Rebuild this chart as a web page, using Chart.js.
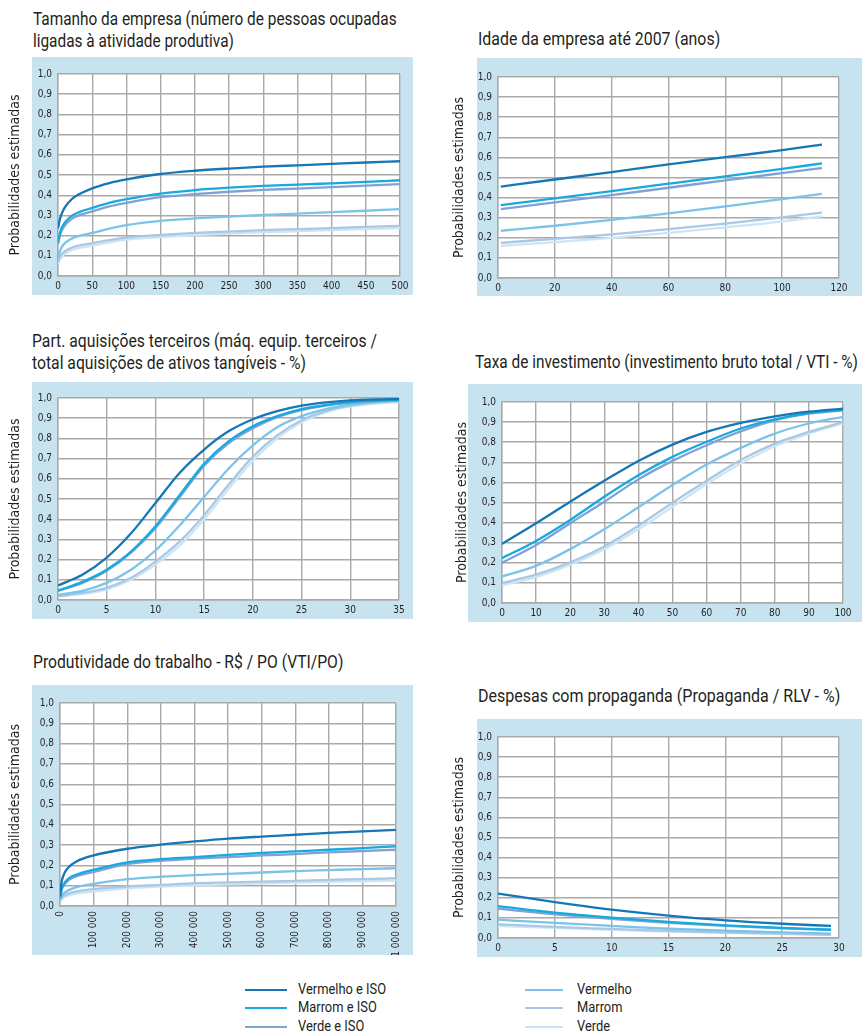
<!DOCTYPE html>
<html>
<head>
<meta charset="utf-8">
<script src="https://cdn.jsdelivr.net/npm/chart.js@4.4.1/dist/chart.umd.min.js"></script>
<style>
  html, body { margin: 0; padding: 0; background: #fff; }
  body { position: relative; width: 862px; height: 1034px; overflow: hidden;
         font-family: Roboto, "Liberation Sans", sans-serif; color: #231f20; }
  .title { position: absolute; font-size: 18px; line-height: 22px; white-space: nowrap; transform-origin: 0 0; }
  canvas { position: absolute; }
  .legline { position: absolute; height: 2px; }
  .legtext { position: absolute; font-size: 14.5px; line-height: 18px; white-space: nowrap; transform-origin: 0 0; }
</style>
</head>
<body>
<script>
  // ---- DATA ----
  const seriesNames = ["Vermelho e ISO", "Marrom e ISO", "Verde e ISO", "Vermelho", "Marrom", "Verde"];
  const seriesColors = ["#1577b6", "#17a9df", "#7ea3d3", "#7cc3ea", "#a9c8e6", "#cce5f3"];

  const yTicks = [0, 0.1, 0.2, 0.3, 0.4, 0.5, 0.6, 0.7, 0.8, 0.9, 1.0];

  // Tamanho da empresa
  const tamanhoX = [0, 2, 5, 10, 20, 30, 50, 75, 100, 150, 200, 250, 300, 350, 400, 450, 500];
  const tamanhoY = [
    [0.235, 0.27, 0.305, 0.34, 0.38, 0.403, 0.434, 0.46, 0.478, 0.505, 0.521, 0.532, 0.541, 0.548, 0.555, 0.562, 0.568],
    [0.165, 0.2, 0.235, 0.265, 0.298, 0.315, 0.337, 0.362, 0.38, 0.408, 0.425, 0.437, 0.446, 0.452, 0.459, 0.466, 0.474],
    [0.158, 0.19, 0.222, 0.25, 0.283, 0.3, 0.32, 0.345, 0.362, 0.39, 0.405, 0.417, 0.426, 0.433, 0.44, 0.447, 0.455],
    [0.09, 0.115, 0.14, 0.163, 0.185, 0.197, 0.213, 0.235, 0.252, 0.273, 0.285, 0.294, 0.302, 0.309, 0.316, 0.323, 0.331],
    [0.07, 0.088, 0.107, 0.123, 0.14, 0.15, 0.162, 0.178, 0.19, 0.203, 0.213, 0.22, 0.227, 0.232, 0.237, 0.243, 0.248],
    [0.058, 0.076, 0.094, 0.11, 0.128, 0.138, 0.15, 0.167, 0.18, 0.193, 0.203, 0.21, 0.217, 0.222, 0.227, 0.232, 0.237]
  ];

  // Idade da empresa até 2007
  const idadeX = [1, 20, 40, 60, 80, 100, 114];
  const idadeY = [
    [0.455, 0.49, 0.527, 0.565, 0.601, 0.636, 0.664],
    [0.363, 0.396, 0.432, 0.469, 0.506, 0.543, 0.57],
    [0.343, 0.376, 0.412, 0.449, 0.486, 0.522, 0.547],
    [0.235, 0.26, 0.289, 0.322, 0.356, 0.392, 0.418],
    [0.175, 0.195, 0.217, 0.243, 0.271, 0.302, 0.325],
    [0.16, 0.178, 0.2, 0.225, 0.252, 0.282, 0.307]
  ];

  // Part. aquisições terceiros
  const aquisX = [0, 2.5, 5, 7.5, 10, 12.5, 15, 17.5, 20, 22.5, 25, 27.5, 30, 32.5, 35];
  const aquisY = [
    [0.072, 0.125, 0.21, 0.33, 0.48, 0.63, 0.745, 0.835, 0.895, 0.935, 0.962, 0.978, 0.988, 0.993, 0.995],
    [0.047, 0.09, 0.15, 0.24, 0.365, 0.52, 0.675, 0.785, 0.86, 0.91, 0.945, 0.966, 0.98, 0.987, 0.99],
    [0.045, 0.085, 0.145, 0.235, 0.355, 0.51, 0.665, 0.775, 0.85, 0.905, 0.94, 0.962, 0.977, 0.985, 0.99],
    [0.025, 0.045, 0.085, 0.15, 0.245, 0.37, 0.51, 0.65, 0.765, 0.855, 0.91, 0.945, 0.967, 0.98, 0.99],
    [0.02, 0.035, 0.06, 0.11, 0.19, 0.29, 0.42, 0.57, 0.71, 0.815, 0.89, 0.935, 0.962, 0.977, 0.985],
    [0.017, 0.03, 0.053, 0.1, 0.175, 0.27, 0.4, 0.55, 0.69, 0.8, 0.88, 0.93, 0.958, 0.972, 0.98]
  ];

  // Taxa de investimento
  const taxaX = [0, 10, 20, 30, 40, 50, 60, 70, 80, 90, 100];
  const taxaY = [
    [0.294, 0.397, 0.504, 0.608, 0.707, 0.788, 0.851, 0.896, 0.929, 0.952, 0.967],
    [0.223, 0.309, 0.413, 0.529, 0.636, 0.727, 0.802, 0.868, 0.914, 0.945, 0.962],
    [0.2, 0.289, 0.397, 0.504, 0.615, 0.707, 0.785, 0.854, 0.909, 0.942, 0.959],
    [0.132, 0.185, 0.268, 0.367, 0.476, 0.587, 0.689, 0.772, 0.843, 0.893, 0.926],
    [0.099, 0.141, 0.202, 0.281, 0.384, 0.499, 0.608, 0.711, 0.793, 0.851, 0.9],
    [0.088, 0.129, 0.19, 0.268, 0.367, 0.479, 0.592, 0.694, 0.78, 0.843, 0.893]
  ];

  // Produtividade do trabalho
  const produtX = [0, 5000, 10000, 25000, 50000, 100000, 200000, 300000, 400000, 500000, 600000, 700000, 800000, 900000, 1000000];
  const produtY = [
    [0.05, 0.12, 0.15, 0.19, 0.22, 0.249, 0.282, 0.302, 0.318, 0.332, 0.342, 0.351, 0.36, 0.368, 0.375],
    [0.04, 0.085, 0.105, 0.135, 0.155, 0.178, 0.215, 0.231, 0.241, 0.252, 0.261, 0.269, 0.277, 0.285, 0.294],
    [0.038, 0.08, 0.098, 0.126, 0.147, 0.168, 0.206, 0.223, 0.233, 0.241, 0.249, 0.256, 0.264, 0.271, 0.277],
    [0.03, 0.05, 0.06, 0.077, 0.093, 0.109, 0.132, 0.144, 0.152, 0.158, 0.165, 0.172, 0.177, 0.182, 0.186],
    [0.025, 0.04, 0.048, 0.06, 0.072, 0.083, 0.096, 0.104, 0.112, 0.116, 0.12, 0.124, 0.129, 0.132, 0.137],
    [0.02, 0.033, 0.04, 0.051, 0.062, 0.071, 0.087, 0.096, 0.102, 0.107, 0.111, 0.115, 0.119, 0.122, 0.125]
  ];

  // Despesas com propaganda
  const despX = [0, 5, 10, 15, 20, 25, 29.3];
  const despY = [
    [0.221, 0.179, 0.141, 0.111, 0.088, 0.071, 0.06],
    [0.159, 0.126, 0.101, 0.08, 0.063, 0.05, 0.041],
    [0.146, 0.118, 0.095, 0.075, 0.06, 0.048, 0.041],
    [0.091, 0.075, 0.06, 0.046, 0.036, 0.028, 0.022],
    [0.068, 0.055, 0.045, 0.035, 0.027, 0.022, 0.017],
    [0.061, 0.05, 0.04, 0.032, 0.025, 0.02, 0.015]
  ];

  const yTitle = "Probabilidades estimadas";

  // ---- LAYOUT (page px) ----
  const FONT = '"DejaVu Sans Condensed", "Liberation Sans", sans-serif';
  const panels = [
    { title: ["Tamanho da empresa (número de pessoas ocupadas", "ligadas à atividade produtiva)"], tx: 33, ty: 8, tw: 364,
      xs: tamanhoX, ys: tamanhoY, xMax: 500, step: 50,
      cl: 0, box: { l: 32, t: 57, r: 413, b: 295 }, plot: { l: 58, t: 74, r: 400, b: 276 }, titlePad: 7 },
    { title: ["Idade da empresa até 2007 (anos)"], tx: 478, ty: 28, tw: 242,
      xs: idadeX, ys: idadeY, xMax: 120, step: 20,
      cl: 440, box: { l: 477, t: 58, r: 862, b: 296 }, plot: { l: 498, t: 77, r: 839, b: 278 }, titlePad: 11 },
    { title: ["Part. aquisições terceiros (máq. equip. terceiros /", "total aquisições de ativos tangíveis - %)"], tx: 32, ty: 330, tw: 345,
      xs: aquisX, ys: aquisY, xMax: 35, step: 5,
      cl: 0, box: { l: 32, t: 382, r: 413, b: 619 }, plot: { l: 58, t: 398, r: 399, b: 600 }, titlePad: 7 },
    { title: ["Taxa de investimento (investimento bruto total / VTI - %)"], tx: 475, ty: 351, tw: 383,
      xs: taxaX, ys: taxaY, xMax: 100, step: 10,
      cl: 440, box: { l: 468, t: 384, r: 862, b: 622 }, plot: { l: 502, t: 402, r: 843, b: 603 }, titlePad: 14 },
    { title: ["Produtividade do trabalho - R$ / PO (VTI/PO)"], tx: 33, ty: 651, tw: 310,
      xs: produtX, ys: produtY, xMax: 1000000, step: 100000, rotate: true,
      cl: 0, box: { l: 32, t: 685, r: 413, b: 955 }, plot: { l: 60, t: 703, r: 400, b: 906 }, titlePad: 7 },
    { title: ["Despesas com propaganda (Propaganda / RLV - %)"], tx: 478, ty: 685, tw: 362,
      xs: despX, ys: despY, xMax: 30, step: 5,
      cl: 440, box: { l: 477, t: 719, r: 862, b: 957 }, plot: { l: 498, t: 737, r: 839, b: 938 }, titlePad: 11 }
  ];

  // ---- PLUGIN: blue frame + white plot ----
  const panelBackground = {
    id: "panelBackground",
    beforeDraw(chart, args, opts) {
      const { ctx, chartArea } = chart;
      ctx.save();
      ctx.fillStyle = "#c8e3f0";
      ctx.fillRect(opts.boxLeft, 0, chart.width - opts.boxLeft, chart.height);
      ctx.fillStyle = "#ffffff";
      ctx.fillRect(chartArea.left, chartArea.top, chartArea.right - chartArea.left, chartArea.bottom - chartArea.top);
      ctx.restore();
    }
  };

  function fmtThousands(v) {
    return String(v).replace(/\B(?=(\d{3})+(?!\d))/g, " ");
  }

  // squeeze text horizontally to the width of the condensed original
  function fitWidth(el, target) {
    const w = el.offsetWidth;
    if (w > 0) el.style.transform = "scaleX(" + (target / w) + ")";
  }

  function makePanel(p) {
    const t = document.createElement("div");
    t.className = "title";
    t.style.left = p.tx + "px";
    t.style.top = p.ty + "px";
    t.innerHTML = p.title.join("<br>");
    document.body.appendChild(t);
    fitWidth(t, p.tw);

    const w = p.box.r - p.cl;
    const h = p.box.b - p.box.t;
    const canvas = document.createElement("canvas");
    canvas.width = w;
    canvas.height = h;
    canvas.style.left = p.cl + "px";
    canvas.style.top = p.box.t + "px";
    canvas.style.width = w + "px";
    canvas.style.height = h + "px";
    document.body.appendChild(canvas);

    const datasets = p.ys.map((ys, i) => ({
      label: seriesNames[i],
      data: p.xs.map((x, j) => ({ x, y: ys[j] })),
      borderColor: seriesColors[i],
      borderWidth: 2.3,
      pointRadius: 0,
      cubicInterpolationMode: "monotone",
      fill: false
    }));

    const gridColor = "#a9a9a9";

    new Chart(canvas, {
      type: "line",
      data: { datasets },
      options: {
        responsive: false,
        animation: false,
        events: [],
        layout: { padding: { left: 0, top: p.plot.t - p.box.t, right: p.box.r - p.plot.r, bottom: 0 } },
        plugins: {
          legend: { display: false },
          tooltip: { enabled: false },
          panelBackground: { boxLeft: p.box.l - p.cl }
        },
        scales: {
          x: {
            type: "linear",
            min: 0,
            max: p.xMax,
            grid: { color: gridColor, lineWidth: 1.4, drawTicks: false },
            border: { color: gridColor, width: 1.4 },
            ticks: {
              stepSize: p.step,
              autoSkip: false,
              padding: p.rotate ? 5 : 4,
              minRotation: p.rotate ? 90 : 0,
              maxRotation: p.rotate ? 90 : 0,
              color: "#231f20",
              font: { family: FONT, size: 10 },
              callback: v => p.rotate ? fmtThousands(v) : String(v)
            },
            afterFit(scale) { scale.height = p.box.b - p.plot.b; }
          },
          y: {
            min: 0,
            max: 1,
            afterBuildTicks(scale) { scale.ticks = yTicks.map(v => ({ value: v })); },
            grid: { color: gridColor, lineWidth: 1.4, drawTicks: false },
            border: { color: gridColor, width: 1.4 },
            ticks: {
              padding: 6,
              color: "#231f20",
              font: { family: FONT, size: 10 },
              callback: v => v.toFixed(1).replace(".", ",")
            },
            title: {
              display: true,
              text: yTitle,
              color: "#231f20",
              font: { family: FONT, size: 14 },
              padding: { top: p.titlePad, bottom: 0 }
            },
            afterFit(scale) { scale.width = p.plot.l - p.cl; }
          }
        }
      },
      plugins: [panelBackground]
    });
  }

  panels.forEach(makePanel);

  // ---- LEGEND ----
  const legendRows = [990, 1008, 1027];
  let legendScale = null;
  seriesNames.forEach((name, i) => {
    const col = i < 3 ? 0 : 1;
    const y = legendRows[i % 3];
    const line = document.createElement("div");
    line.className = "legline";
    line.style.background = seriesColors[i];
    line.style.left = (col ? 525 : 245) + "px";
    line.style.width = (col ? 38 : 42) + "px";
    line.style.top = (y - 1) + "px";
    document.body.appendChild(line);

    const txt = document.createElement("div");
    txt.className = "legtext";
    txt.textContent = name;
    txt.style.left = (col ? 577 : 298) + "px";
    txt.style.top = (y - 9) + "px";
    document.body.appendChild(txt);
    if (legendScale === null) legendScale = 88 / txt.offsetWidth;
    txt.style.transform = "scaleX(" + legendScale + ")";
  });
</script>
</body>
</html>
